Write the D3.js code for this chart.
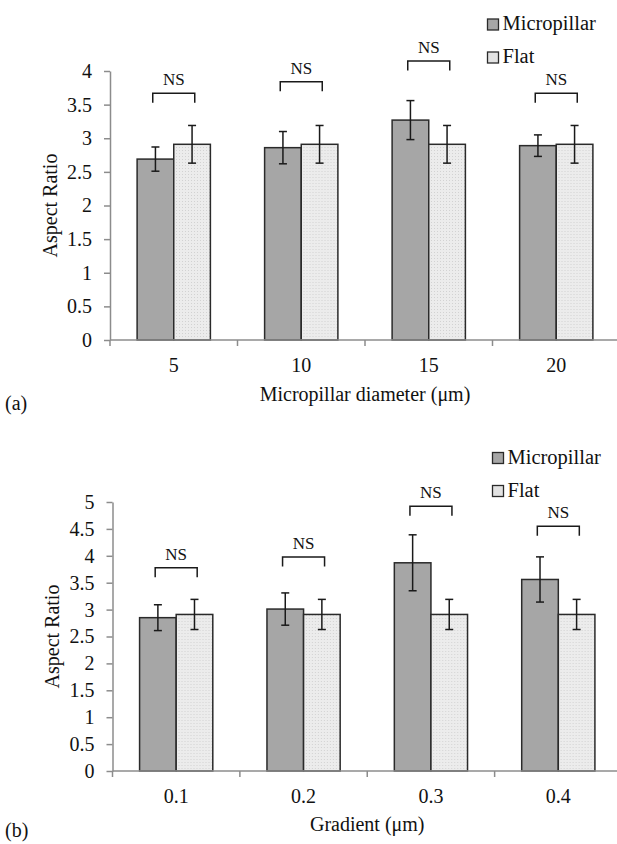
<html>
<head>
  <meta charset="utf-8">
  <style>
    body { margin: 0; background: #fff; }
  </style>
</head>
<body>
  <svg></svg>
  <script src="https://d3js.org/d3.v7.min.js"></script>
  <script>
    let width = 617, height = 844;
    const FONT = "'Liberation Serif', 'Times New Roman', serif";

    // data, panel (a)
    const catsA = ["5", "10", "15", "20"];
    const microA = [2.69, 2.86, 3.27, 2.89];
    const microErrA = [0.18, 0.24, 0.29, 0.16];
    const flatA = [2.91, 2.91, 2.91, 2.91];
    const flatErrA = [0.28, 0.28, 0.28, 0.28];
    const bracketA = [3.67, 3.84, 4.15, 3.67];

    // data, panel (b)
    const catsB = ["0.1", "0.2", "0.3", "0.4"];
    const microB = [2.85, 3.01, 3.87, 3.56];
    const microErrB = [0.24, 0.30, 0.52, 0.42];
    const flatB = [2.91, 2.91, 2.91, 2.91];
    const flatErrB = [0.28, 0.28, 0.28, 0.28];
    const bracketB = [3.78, 3.98, 4.92, 4.55];

    const series = ["Micropillar", "Flat"];

    let svg = d3.select("svg")
        .attr("width", width)
        .attr("height", height)
        .style("display", "block")
        .style("font-family", FONT);

    // dotted texture for the flat bars
    let defs = svg.append("defs");
    let pat = defs.append("pattern")
        .attr("id", "dots")
        .attr("width", 3).attr("height", 3)
        .attr("patternUnits", "userSpaceOnUse");
    pat.append("rect").attr("width", 3).attr("height", 3).attr("fill", "#ececec");
    pat.append("rect").attr("width", 1).attr("height", 1).attr("fill", "#d2d2d2");

    const fills = { "Micropillar": "#a6a6a6", "Flat": "url(#dots)" };
    const axisColor = "#8c8c8c";

    function drawPanel(p) {
      let g = svg.append("g");

      let x = d3.scaleBand().domain(p.cats).range([p.left, p.right]).padding(0);
      let xs = d3.scaleBand().domain(series).range([0, x.bandwidth()])
          .paddingInner(0).paddingOuter(0.74);
      let y = d3.scaleLinear().domain([0, p.max]).range([p.bottom, p.top]);

      // y axis
      let yAxis = g.append("g")
          .attr("transform", "translate(" + p.left + ",0)")
          .call(d3.axisLeft(y)
            .tickValues(d3.range(0, p.max + 0.01, 0.5))
            .tickSize(6).tickSizeOuter(0).tickPadding(12)
            .tickFormat(d => String(+d.toFixed(1))));
      yAxis.attr("font-family", null);
      yAxis.select(".domain").attr("stroke", axisColor).attr("stroke-width", 1.5);
      yAxis.selectAll(".tick line").attr("stroke", axisColor).attr("stroke-width", 1.5);
      yAxis.selectAll("text").style("font-size", "20px").attr("fill", "#111")
          .style("font-family", FONT);

      // bars
      let rows = p.cats.map((c, i) => ({
        cat: c,
        vals: [
          { s: "Micropillar", v: p.micro[i], e: p.microErr[i] },
          { s: "Flat", v: p.flat[i], e: p.flatErr[i] }
        ],
        br: p.bracket[i]
      }));

      let grp = g.selectAll(".grp").data(rows).enter().append("g")
          .attr("transform", d => "translate(" + x(d.cat) + ",0)");

      grp.selectAll("rect").data(d => d.vals).enter().append("rect")
          .attr("x", d => xs(d.s))
          .attr("y", d => y(d.v))
          .attr("width", xs.bandwidth())
          .attr("height", d => y(0) - y(d.v))
          .attr("fill", d => fills[d.s])
          .attr("stroke", "#2a2a2a")
          .attr("stroke-width", 1.5);

      // error bars
      let eb = grp.selectAll(".err").data(d => d.vals).enter().append("g")
          .attr("stroke", "#1a1a1a").attr("stroke-width", 1.5);
      eb.append("line")
          .attr("x1", d => xs(d.s) + xs.bandwidth() / 2)
          .attr("x2", d => xs(d.s) + xs.bandwidth() / 2)
          .attr("y1", d => y(d.v + d.e)).attr("y2", d => y(d.v - d.e));
      eb.append("line")
          .attr("x1", d => xs(d.s) + xs.bandwidth() / 2 - 4)
          .attr("x2", d => xs(d.s) + xs.bandwidth() / 2 + 4)
          .attr("y1", d => y(d.v + d.e)).attr("y2", d => y(d.v + d.e));
      eb.append("line")
          .attr("x1", d => xs(d.s) + xs.bandwidth() / 2 - 4)
          .attr("x2", d => xs(d.s) + xs.bandwidth() / 2 + 4)
          .attr("y1", d => y(d.v - d.e)).attr("y2", d => y(d.v - d.e));

      // NS brackets
      let bw = x.bandwidth();
      grp.append("path")
          .attr("d", d => {
            let yb = y(d.br);
            return "M" + (bw / 2 - 21) + "," + (yb + 9.5) + "V" + yb +
                   "H" + (bw / 2 + 21) + "V" + (yb + 9.5);
          })
          .attr("fill", "none").attr("stroke", "#1a1a1a").attr("stroke-width", 1.5);
      grp.append("text")
          .attr("x", bw / 2)
          .attr("y", d => y(d.br) - 8)
          .attr("text-anchor", "middle")
          .style("font-family", FONT)
          .style("font-size", "17px")
          .attr("fill", "#111")
          .text("NS");

      // x axis
      g.append("line")
          .attr("x1", p.left).attr("x2", width)
          .attr("y1", p.bottom).attr("y2", p.bottom)
          .attr("stroke", axisColor).attr("stroke-width", 1.5);
      g.selectAll(".xtick").data(p.cats).enter().append("line")
          .attr("x1", d => x(d)).attr("x2", d => x(d))
          .attr("y1", p.bottom).attr("y2", p.bottom + 6)
          .attr("stroke", axisColor).attr("stroke-width", 1.5);
      let xAxis = g.append("g")
          .attr("transform", "translate(0," + p.bottom + ")")
          .call(d3.axisBottom(x).tickSize(0).tickPadding(18));
      xAxis.attr("font-family", null);
      xAxis.select(".domain").remove();
      xAxis.selectAll("text").style("font-size", "20px").attr("fill", "#111")
          .style("font-family", FONT);

      // titles
      g.append("text")
          .attr("x", (p.left + p.right) / 2)
          .attr("y", p.titleY)
          .attr("text-anchor", "middle")
          .style("font-family", FONT)
          .style("font-size", "20px").attr("fill", "#111")
          .text(p.xTitle);
      g.append("text")
          .attr("transform", "translate(" + p.yTitleX + "," + ((p.top + p.bottom) / 2) + ") rotate(-90)")
          .attr("text-anchor", "middle")
          .style("font-family", FONT)
          .style("font-size", "20px").attr("fill", "#111")
          .text("Aspect Ratio");
      g.append("text")
          .attr("x", 5).attr("y", p.tagY)
          .style("font-family", FONT)
          .style("font-size", "20px").attr("fill", "#111")
          .text(p.tag);

      // legend
      let leg = g.selectAll(".leg").data(series).enter().append("g")
          .attr("transform", (d, i) => "translate(" + p.legX + "," + (p.legY + i * 33) + ")");
      leg.append("rect")
          .attr("x", 0).attr("y", -11).attr("width", 11).attr("height", 11)
          .attr("fill", d => d == "Flat" ? "#e2e2e2" : fills[d])
          .attr("stroke", "#2a2a2a").attr("stroke-width", 1.3);
      leg.append("text")
          .attr("x", 15).attr("y", 0)
          .style("font-family", FONT)
          .style("font-size", "20.5px").attr("fill", "#111")
          .text(d => d);
    }

    drawPanel({
      cats: catsA, micro: microA, microErr: microErrA, flat: flatA, flatErr: flatErrA,
      bracket: bracketA, max: 4,
      left: 110, right: 620, top: 71, bottom: 340,
      xTitle: "Micropillar diameter (\u03bcm)", titleY: 401, tag: "(a)", tagY: 410,
      yTitleX: 57, legX: 487.5, legY: 30
    });

    drawPanel({
      cats: catsB, micro: microB, microErr: microErrB, flat: flatB, flatErr: flatErrB,
      bracket: bracketB, max: 5,
      left: 112.5, right: 622, top: 502, bottom: 771,
      xTitle: "Gradient (\u03bcm)", titleY: 831, tag: "(b)", tagY: 837,
      yTitleX: 59, legX: 492.5, legY: 463.5
    });
  </script>
</body>
</html>
